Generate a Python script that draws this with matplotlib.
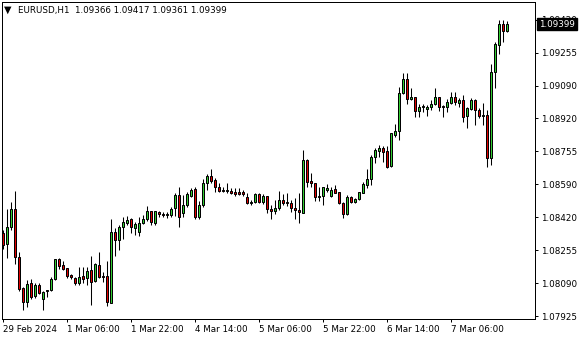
import numpy as np
import matplotlib
matplotlib.use("Agg")
import matplotlib.pyplot as plt
from matplotlib.transforms import blended_transform_factory

# EURUSD H1, bars from 29 Feb 14:00 to 7 Mar 20:00
opens = [
    1.08344, 1.08289, 1.08375, 1.08466, 1.08223, 1.08067, 1.07996, 1.08092, 1.08026, 1.08082,
    1.08011, 1.08051, 1.08057, 1.08112, 1.08213, 1.08183, 1.08168, 1.08132, 1.08117, 1.08092,
    1.08127, 1.08117, 1.08158, 1.08102, 1.08183, 1.08127, 1.08127, 1.07991, 1.08349, 1.08309,
    1.08375, 1.08395, 1.08415, 1.08370, 1.08349, 1.08395, 1.08415, 1.08455, 1.08395, 1.08450,
    1.08440, 1.08435, 1.08435, 1.08471, 1.08536, 1.08445, 1.08486, 1.08531, 1.08566, 1.08425,
    1.08486, 1.08597, 1.08632, 1.08612, 1.08577, 1.08561, 1.08556, 1.08556, 1.08551, 1.08551,
    1.08551, 1.08526, 1.08496, 1.08501, 1.08541, 1.08501, 1.08531, 1.08466, 1.08455, 1.08471,
    1.08511, 1.08501, 1.08496, 1.08471, 1.08460, 1.08445, 1.08713, 1.08607, 1.08597, 1.08526,
    1.08531, 1.08561, 1.08531, 1.08566, 1.08551, 1.08496, 1.08440, 1.08526, 1.08501, 1.08516,
    1.08546, 1.08587, 1.08617, 1.08728, 1.08758, 1.08774, 1.08758, 1.08683, 1.08839, 1.08859,
    1.09051, 1.09122, 1.09021, 1.09031, 1.08960, 1.08981, 1.08971, 1.08981, 1.08996, 1.09031,
    1.08986, 1.08981, 1.09001, 1.09031, 1.09001, 1.09016, 1.08935, 1.08971, 1.09016, 1.08966,
    1.08935, 1.08940, 1.08723, 1.09157, 1.09294, 1.09400, 1.09366,
]
highs = [
    1.08360, 1.08466, 1.08501, 1.08556, 1.08248, 1.08072, 1.08107, 1.08112, 1.08092, 1.08092,
    1.08051, 1.08057, 1.08122, 1.08213, 1.08218, 1.08203, 1.08168, 1.08137, 1.08122, 1.08173,
    1.08173, 1.08173, 1.08228, 1.08193, 1.08248, 1.08147, 1.08203, 1.08415, 1.08370, 1.08385,
    1.08425, 1.08430, 1.08420, 1.08400, 1.08425, 1.08435, 1.08481, 1.08455, 1.08455, 1.08455,
    1.08450, 1.08450, 1.08476, 1.08546, 1.08577, 1.08536, 1.08551, 1.08572, 1.08577, 1.08506,
    1.08617, 1.08642, 1.08667, 1.08622, 1.08597, 1.08577, 1.08597, 1.08572, 1.08572, 1.08572,
    1.08561, 1.08546, 1.08511, 1.08546, 1.08546, 1.08541, 1.08531, 1.08486, 1.08511, 1.08556,
    1.08541, 1.08546, 1.08511, 1.08521, 1.08546, 1.08763, 1.08718, 1.08647, 1.08597, 1.08577,
    1.08577, 1.08592, 1.08577, 1.08587, 1.08551, 1.08501, 1.08536, 1.08531, 1.08521, 1.08551,
    1.08602, 1.08667, 1.08738, 1.08774, 1.08789, 1.08784, 1.08784, 1.08849, 1.08895, 1.09081,
    1.09152, 1.09152, 1.09076, 1.09031, 1.08996, 1.08996, 1.08991, 1.09016, 1.09076, 1.09031,
    1.08991, 1.09021, 1.09056, 1.09056, 1.09026, 1.09041, 1.08981, 1.09026, 1.09021, 1.08976,
    1.09001, 1.08966, 1.09198, 1.09309, 1.09420, 1.09420, 1.09417,
]
lows = [
    1.08263, 1.08218, 1.08360, 1.08188, 1.08051, 1.07955, 1.07971, 1.08011, 1.08016, 1.08036,
    1.07955, 1.08021, 1.08051, 1.08107, 1.08163, 1.08158, 1.08117, 1.08112, 1.08082, 1.08082,
    1.08092, 1.08082, 1.07981, 1.08097, 1.08117, 1.08097, 1.07976, 1.07991, 1.08228, 1.08258,
    1.08314, 1.08385, 1.08344, 1.08334, 1.08329, 1.08390, 1.08405, 1.08385, 1.08385, 1.08425,
    1.08425, 1.08420, 1.08425, 1.08430, 1.08375, 1.08425, 1.08476, 1.08526, 1.08415, 1.08415,
    1.08476, 1.08561, 1.08597, 1.08551, 1.08551, 1.08551, 1.08546, 1.08541, 1.08531, 1.08536,
    1.08531, 1.08491, 1.08486, 1.08496, 1.08496, 1.08491, 1.08445, 1.08415, 1.08440, 1.08460,
    1.08486, 1.08481, 1.08450, 1.08415, 1.08395, 1.08445, 1.08577, 1.08577, 1.08506, 1.08506,
    1.08486, 1.08551, 1.08526, 1.08546, 1.08491, 1.08420, 1.08435, 1.08496, 1.08496, 1.08511,
    1.08546, 1.08572, 1.08587, 1.08698, 1.08728, 1.08703, 1.08673, 1.08678, 1.08829, 1.08814,
    1.09046, 1.08996, 1.09016, 1.08930, 1.08930, 1.08955, 1.08935, 1.08966, 1.08991, 1.08960,
    1.08930, 1.08955, 1.08996, 1.08991, 1.08981, 1.08905, 1.08874, 1.08966, 1.08890, 1.08925,
    1.08890, 1.08678, 1.08688, 1.09076, 1.09248, 1.09309, 1.09361,
]
closes = [
    1.08284, 1.08375, 1.08466, 1.08223, 1.08062, 1.07996, 1.08087, 1.08021, 1.08082, 1.08041,
    1.08046, 1.08057, 1.08112, 1.08213, 1.08178, 1.08163, 1.08127, 1.08122, 1.08092, 1.08122,
    1.08112, 1.08153, 1.08097, 1.08188, 1.08122, 1.08122, 1.07996, 1.08349, 1.08309, 1.08375,
    1.08400, 1.08410, 1.08375, 1.08390, 1.08395, 1.08415, 1.08455, 1.08400, 1.08455, 1.08440,
    1.08435, 1.08440, 1.08466, 1.08536, 1.08425, 1.08486, 1.08541, 1.08561, 1.08425, 1.08486,
    1.08597, 1.08632, 1.08607, 1.08577, 1.08556, 1.08556, 1.08561, 1.08546, 1.08541, 1.08541,
    1.08541, 1.08496, 1.08501, 1.08541, 1.08501, 1.08531, 1.08466, 1.08455, 1.08471, 1.08511,
    1.08496, 1.08496, 1.08471, 1.08460, 1.08450, 1.08713, 1.08602, 1.08597, 1.08526, 1.08531,
    1.08577, 1.08572, 1.08561, 1.08546, 1.08496, 1.08440, 1.08526, 1.08501, 1.08516, 1.08551,
    1.08592, 1.08617, 1.08728, 1.08763, 1.08774, 1.08753, 1.08678, 1.08849, 1.08859, 1.09051,
    1.09122, 1.09021, 1.09031, 1.08960, 1.08981, 1.08986, 1.08981, 1.08996, 1.09031, 1.08981,
    1.08981, 1.09006, 1.09031, 1.09006, 1.09016, 1.08930, 1.08976, 1.09016, 1.08966, 1.08935,
    1.08940, 1.08723, 1.09157, 1.09299, 1.09400, 1.09364, 1.09399,
]

time_tick_bars = [0, 16, 32, 48, 64, 80, 96, 112]
time_tick_labels = ["29 Feb 2024", "1 Mar 06:00", "1 Mar 22:00", "4 Mar 14:00",
                    "5 Mar 06:00", "5 Mar 22:00", "6 Mar 14:00", "7 Mar 06:00"]
price_ticks = [1.07925, 1.08091, 1.08258, 1.08424, 1.08590, 1.08756, 1.08923, 1.09089, 1.09255, 1.09421]
price_tick_labels = ["1.07925", "1.08090", "1.08255", "1.08420", "1.08590",
                     "1.08755", "1.08920", "1.09090", "1.09255", "1.09420"]

BULL = "#32cd32"
BEAR = "#e00000"
FS = 6.3

W, H = 580, 340
fig = plt.figure(figsize=(W / 100, H / 100), dpi=100)
ax = fig.add_axes([2 / W, 1 - 319 / H, 533 / W, 317 / H])

o = np.array(opens)
h = np.array(highs)
l = np.array(lows)
c = np.array(closes)
x = np.arange(len(o))
up = c >= o

ax.vlines(x, l, h, color="black", linewidth=0.75, zorder=1)
body_lo = np.minimum(o, c)
body_h = np.maximum(np.abs(c - o), 0.000001)
ax.bar(x, body_h, bottom=body_lo, width=0.55,
       color=np.where(up, BULL, BEAR), edgecolor="black", linewidth=0.72, zorder=2)

ax.set_xlim(-0.25, 133)
ax.set_ylim(1.07910, 1.09511)

ax.yaxis.tick_right()
ax.set_yticks(price_ticks)
ax.set_yticklabels(price_tick_labels)
ax.set_xticks(time_tick_bars)
ax.set_xticklabels(time_tick_labels)
for t in ax.get_xticklabels():
    t.set_ha("left")
ax.tick_params(axis="y", direction="out", length=2.5, width=0.72, pad=2, labelsize=FS)
ax.tick_params(axis="x", direction="out", length=2.5, width=0.72, pad=1.5, labelsize=FS)
for s in ax.spines.values():
    s.set_linewidth(0.72)

# last price marker (covers the top scale label, as in the terminal)
trans = blended_transform_factory(ax.transAxes, ax.transData)
ax.text(1.0 + 4 / 533, closes[-1], "1.09399", transform=trans, color="white",
        fontsize=FS, va="center", ha="left", zorder=5,
        bbox=dict(boxstyle="square,pad=0.2", facecolor="black", edgecolor="black"))

fig.text(3.5 / W, 1 - 10 / H, "\u25bc", fontsize=7, va="center", ha="left")
fig.text(18 / W, 1 - 10 / H,
         f"EURUSD,H1  {opens[-1]:.5f} {highs[-1]:.5f} {lows[-1]:.5f} {closes[-1]:.5f}",
         fontsize=FS, va="center", ha="left")

fig.savefig("out.png", dpi=100)
